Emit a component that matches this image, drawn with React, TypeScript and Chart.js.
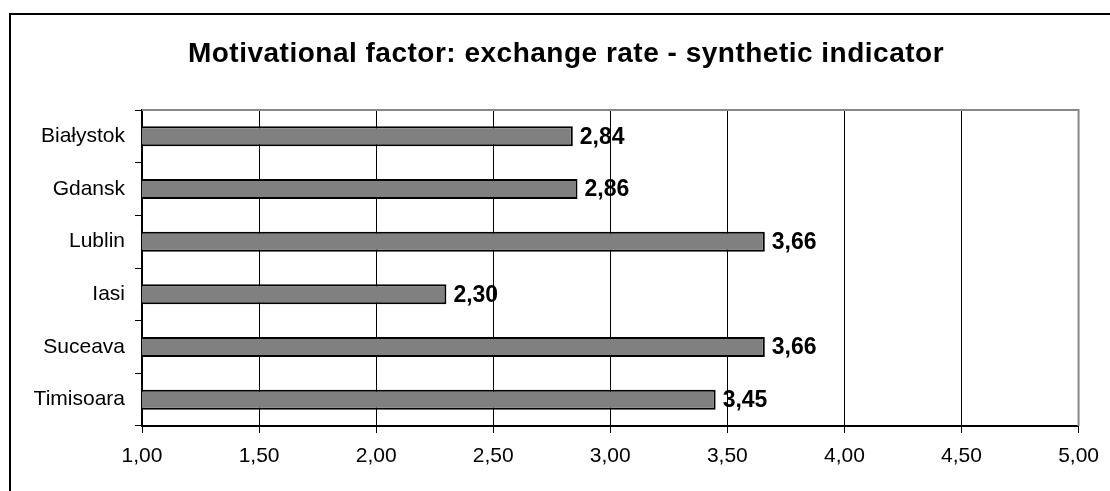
import React, { useEffect, useRef } from "react";
import { Chart, registerables } from "chart.js";

Chart.register(...registerables);

const TITLE = "Motivational factor: exchange rate - synthetic indicator";
const CITIES = ["Białystok", "Gdansk", "Lublin", "Iasi", "Suceava", "Timisoara"];
const SCORES = [2.84, 2.86, 3.66, 2.3, 3.66, 3.45];
const AXIS_MIN = 1;
const AXIS_MAX = 5;
const AXIS_STEP = 0.5;

const FONT = '"Liberation Sans", Arial, sans-serif';
const fmt = (v: number) => v.toFixed(2).replace(".", ",");

// Outer frame, title, plot-area border and the value labels next to each bar
const decorations = {
  id: "decorations",
  beforeDraw(chart: any) {
    const { ctx } = chart;
    ctx.save();
    ctx.fillStyle = "#ffffff";
    ctx.fillRect(0, 0, chart.width, chart.height);
    ctx.fillStyle = "#000000";
    ctx.fillRect(9, 13, chart.width, 2);
    ctx.fillRect(9, 13, 2, chart.height);
    ctx.font = `bold 28px ${FONT}`;
    (ctx as any).letterSpacing = "0.5px";
    ctx.textAlign = "center";
    ctx.textBaseline = "alphabetic";
    ctx.fillText(TITLE, 566, 62);
    (ctx as any).letterSpacing = "0px";
    ctx.restore();
  },
  afterDatasetsDraw(chart: any) {
    const { ctx, chartArea } = chart;
    ctx.save();
    ctx.strokeStyle = "#888888";
    ctx.lineWidth = 2;
    ctx.beginPath();
    ctx.moveTo(chartArea.left, chartArea.top);
    ctx.lineTo(chartArea.right, chartArea.top);
    ctx.lineTo(chartArea.right, chartArea.bottom);
    ctx.stroke();

    const meta = chart.getDatasetMeta(0);
    ctx.fillStyle = "#000000";
    ctx.font = `bold 23px ${FONT}`;
    ctx.textAlign = "left";
    ctx.textBaseline = "middle";
    meta.data.forEach((bar: any, i: number) => {
      ctx.fillText(fmt(SCORES[i]), bar.x + 7, bar.y + 1);
    });
    ctx.restore();
  },
};

export default function App() {
  const canvasRef = useRef<HTMLCanvasElement>(null);

  useEffect(() => {
    if (!canvasRef.current) return;
    const chart = new Chart(canvasRef.current, {
      type: "bar",
      data: {
        labels: CITIES,
        datasets: [
          {
            data: SCORES,
            backgroundColor: "#808080",
            borderColor: "#000000",
            borderWidth: 2,
            borderSkipped: false,
            categoryPercentage: 1,
            barPercentage: 0.38,
          },
        ],
      },
      options: {
        indexAxis: "y",
        responsive: false,
        animation: false,
        devicePixelRatio: 1,
        layout: { padding: { top: 110, left: 0, right: 29, bottom: 0 } },
        plugins: {
          legend: { display: false },
          title: { display: false },
          tooltip: { enabled: false },
        },
        scales: {
          x: {
            type: "linear",
            min: AXIS_MIN,
            max: AXIS_MAX,
            afterFit: (scale: any) => {
              scale.height = 65;
            },
            ticks: {
              stepSize: AXIS_STEP,
              color: "#000000",
              padding: 11,
              maxRotation: 0,
              font: { family: FONT, size: 21 },
              callback: (v: any) => fmt(Number(v)),
            },
            grid: {
              color: "#000000",
              lineWidth: 1,
              tickLength: 7,
              drawOnChartArea: true,
            },
            border: { color: "#000000", width: 2 },
          },
          y: {
            type: "category",
            offset: true,
            afterFit: (scale: any) => {
              scale.width = 142;
            },
            ticks: {
              color: "#000000",
              padding: 10,
              font: { family: FONT, size: 21 },
            },
            grid: {
              offset: true,
              drawOnChartArea: false,
              color: "#000000",
              lineWidth: 1,
              tickLength: 7,
            },
            border: { color: "#000000", width: 2 },
          },
        },
      },
      plugins: [decorations],
    });
    return () => chart.destroy();
  }, []);

  return (
    <div style={{ position: "fixed", left: 0, top: 0, width: 1110, height: 491, overflow: "hidden", background: "#fff" }}>
      <canvas ref={canvasRef} width={1110} height={491} style={{ display: "block" }} />
    </div>
  );
}
